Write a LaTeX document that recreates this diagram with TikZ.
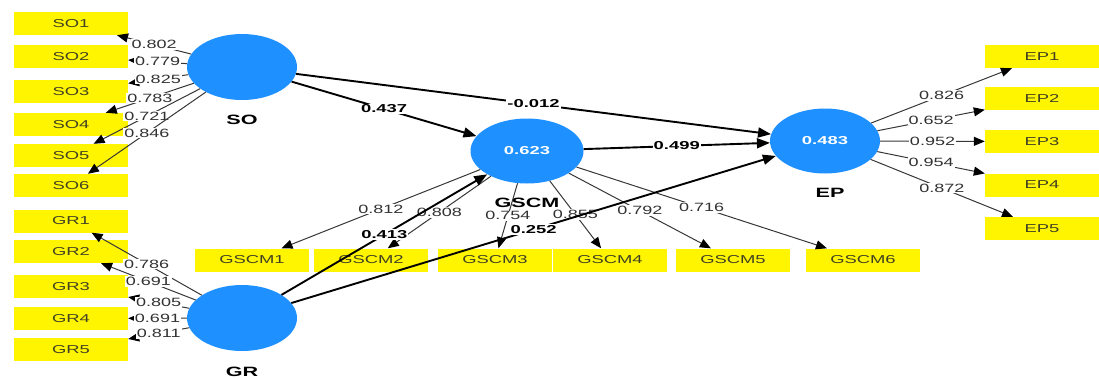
\documentclass[tikz,border=0pt]{standalone}
\usepackage{fontspec}
\setmainfont{Liberation Sans}
\usepackage{graphicx}
\usetikzlibrary{shapes.geometric,arrows.meta}
\definecolor{lvblue}{RGB}{30,144,255}
\definecolor{indyellow}{RGB}{255,245,0}
\definecolor{indtext}{RGB}{65,65,35}
\definecolor{lodgray}{RGB}{50,50,50}
\definecolor{linegray}{RGB}{55,55,55}
\newcommand{\hs}[1]{\scalebox{1.5}[1]{#1}}
\newcommand{\hb}[1]{\scalebox{1.6}[1]{#1}}
\begin{document}
\begin{tikzpicture}[x=1pt,y=-1pt,
  ind/.style={fill=indyellow, minimum width=114pt, minimum height=23pt, inner sep=0pt, text=indtext, font=\fontsize{11.5}{12}\selectfont},
  lv/.style={ellipse, fill=lvblue, minimum width=110pt, minimum height=66pt, inner sep=0pt, text=white, font=\bfseries\fontsize{11.5}{12}\selectfont},
  lvname/.style={font=\bfseries\fontsize{13.5}{14}\selectfont},
  ldline/.style={draw=linegray, line width=1pt, -{Triangle[length=11pt,width=9pt,color=black]}},
  lodlab/.style={fill=white, inner sep=1pt, text=lodgray, font=\fontsize{12}{12}\selectfont},
  spath/.style={draw=black, line width=1.9pt, -{Triangle[length=13pt,width=10pt]}},
  pathlab/.style={fill=white, inner sep=1pt, font=\bfseries\fontsize{11.5}{12}\selectfont}]
\useasboundingbox (0,0) rectangle (1099,378);
% indicator boxes
\node[ind] (SO1) at (71,23.5) {\hb{SO1}};
\node[ind] (SO2) at (71,56.5) {\hb{SO2}};
\node[ind] (SO3) at (71,91.5) {\hb{SO3}};
\node[ind] (SO4) at (71,124.5) {\hb{SO4}};
\node[ind] (SO5) at (71,155.5) {\hb{SO5}};
\node[ind] (SO6) at (71,185.5) {\hb{SO6}};
\node[ind] (GR1) at (71,221) {\hb{GR1}};
\node[ind] (GR2) at (71,251.5) {\hb{GR2}};
\node[ind] (GR3) at (71,286.5) {\hb{GR3}};
\node[ind] (GR4) at (71,318.5) {\hb{GR4}};
\node[ind] (GR5) at (71,349.5) {\hb{GR5}};
\node[ind] (GSCM1) at (252,260) {\hb{GSCM1}};
\node[ind] (GSCM2) at (371,260) {\hb{GSCM2}};
\node[ind] (GSCM3) at (495,260) {\hb{GSCM3}};
\node[ind] (GSCM4) at (610,260) {\hb{GSCM4}};
\node[ind] (GSCM5) at (733,260) {\hb{GSCM5}};
\node[ind] (GSCM6) at (863,260) {\hb{GSCM6}};
\node[ind] (EP1) at (1042,56.5) {\hb{EP1}};
\node[ind] (EP2) at (1042,98.5) {\hb{EP2}};
\node[ind] (EP3) at (1042,141.5) {\hb{EP3}};
\node[ind] (EP4) at (1042,185) {\hb{EP4}};
\node[ind] (EP5) at (1042,228.5) {\hb{EP5}};
% latent variables
\node[lv] (SO) at (242,67) {};
\node[lv] (GR) at (242,318) {};
\node[lv, minimum width=113pt, minimum height=65pt] (GSCM) at (527,151) {\hb{0.623}};
\node[lv, minimum height=65pt] (EP) at (825,141) {\hb{0.483}};
\node[lvname] (SOn) at (242,120) {\hb{SO}};
\node[lvname] (GRn) at (242,372) {\hb{GR}};
\node[lvname] (GSCMn) at (527,203) {\hb{GSCM}};
\node[lvname] (EPn) at (830,193) {\hb{EP}};
% outer loadings
\draw[ldline] (SO) -- node[lodlab]{\hs{0.802}} (SO1);
\draw[ldline] (SO) -- node[lodlab]{\hs{0.779}} (SO2);
\draw[ldline] (SO) -- node[lodlab]{\hs{0.825}} (SO3);
\draw[ldline] (SO) -- node[lodlab]{\hs{0.783}} (SO4);
\draw[ldline] (SO) -- node[lodlab]{\hs{0.721}} (SO5);
\draw[ldline] (SO) -- node[lodlab]{\hs{0.846}} (SO6);
\draw[ldline] (GR) -- node[lodlab]{\hs{0.786}} (GR1);
\draw[ldline] (GR) -- node[lodlab]{\hs{0.691}} (GR2);
\draw[ldline] (GR) -- node[lodlab]{\hs{0.805}} (GR3);
\draw[ldline] (GR) -- node[lodlab]{\hs{0.691}} (GR4);
\draw[ldline] (GR) -- node[lodlab]{\hs{0.811}} (GR5);
\draw[ldline] (GSCM) -- node[lodlab]{\hs{0.812}} (GSCM1);
\draw[ldline] (GSCM) -- node[lodlab]{\hs{0.808}} (GSCM2);
\draw[ldline] (GSCM) -- node[lodlab]{\hs{0.754}} (GSCM3);
\draw[ldline] (GSCM) -- node[lodlab]{\hs{0.855}} (GSCM4);
\draw[ldline] (GSCM) -- node[lodlab]{\hs{0.792}} (GSCM5);
\draw[ldline] (GSCM) -- node[lodlab]{\hs{0.716}} (GSCM6);
\draw[ldline] (EP) -- node[lodlab]{\hs{0.826}} (EP1);
\draw[ldline] (EP) -- node[lodlab]{\hs{0.652}} (EP2);
\draw[ldline] (EP) -- node[lodlab]{\hs{0.952}} (EP3);
\draw[ldline] (EP) -- node[lodlab]{\hs{0.954}} (EP4);
\draw[ldline] (EP) -- node[lodlab]{\hs{0.872}} (EP5);
% structural paths
\draw[spath] (SO) -- node[pathlab]{\hb{0.437}} (GSCM);
\draw[spath] (SO) -- node[pathlab]{\hb{-0.012}} (EP);
\draw[spath] (GSCM) -- node[pathlab]{\hb{0.499}} (EP);
\draw[spath] (GR) -- node[pathlab]{\hb{0.413}} (GSCM);
\draw[spath] (GR) -- node[pathlab]{\hb{0.252}} (EP);
\end{tikzpicture}
\end{document}
